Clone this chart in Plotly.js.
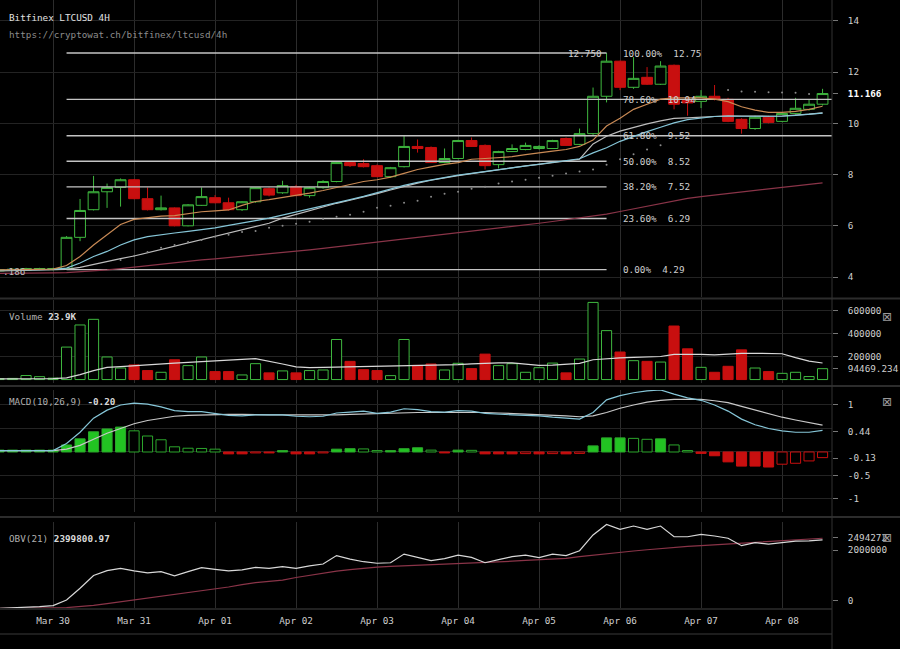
<!DOCTYPE html>
<html><head><meta charset="utf-8">
<script src="https://cdn.plot.ly/plotly-3.0.1.min.js"></script>
<style>html,body{margin:0;padding:0;background:#000;overflow:hidden}#chart{width:900px;height:649px}</style>
</head><body><div id="chart"></div>
<script>
// ---------- data (4H candles, index -4 .. 57 relative to Mar 30 00:00) ----------
const firstIndex = -4;
const openP  = [4.24,4.28,4.27,4.30,4.29, 4.33,5.55,6.63,7.33,7.50, 7.80,7.06,6.63,6.70,6.00, 6.80,7.10,6.90,6.63,6.94, 7.45,7.29,7.53,7.18,7.49, 7.73,8.47,8.43,8.35,7.92, 8.31,9.10,9.06,8.47,8.63, 9.33,9.14,8.39,8.90,8.98, 9.02,9.02,9.41,9.18,9.60, 11.06,12.43,11.41,11.80,11.53, 12.27,10.90,10.86,11.06,10.94, 10.16,9.80,10.24,10.08,10.39, 10.55,10.75];
const highP  = [4.30,4.32,4.36,4.36,4.36, 5.60,7.05,7.95,7.65,7.85, 7.83,7.50,7.18,6.72,6.85, 7.50,7.20,7.10,6.96,7.50, 7.50,7.76,7.60,7.52,7.78, 8.50,8.52,8.60,8.40,8.30, 9.53,9.37,9.10,9.02,9.36, 9.45,9.18,8.93,9.18,9.25, 9.15,9.36,9.45,9.80,11.40, 12.75,12.45,12.59,12.20,12.43, 12.30,11.00,11.30,11.50,11.00, 10.20,10.30,10.30,10.42,11.00, 10.95,11.35];
const lowP   = [4.22,4.25,4.25,4.27,4.26, 4.30,5.40,6.60,6.70,6.75, 7.04,6.60,6.60,5.98,5.98, 6.78,6.88,6.60,6.58,6.90, 7.15,7.25,7.15,7.10,7.45, 7.70,8.30,8.28,7.90,7.88, 8.28,8.86,8.45,8.45,8.60, 9.08,8.20,8.24,8.88,8.95, 8.98,9.00,9.12,9.15,9.55, 10.82,11.30,11.35,11.50,11.50, 10.55,10.30,10.60,10.90,10.05, 9.60,9.75,10.00,10.05,10.35, 10.50,10.70];
const closeP = [4.28,4.30,4.33,4.33,4.33, 5.55,6.60,7.33,7.50,7.80, 7.06,6.63,6.70,6.00,6.82, 7.14,6.90,6.63,6.94,7.49, 7.20,7.57,7.18,7.49,7.73, 8.47,8.35,8.31,7.92,8.27, 9.10,9.02,8.47,8.63,9.33, 9.10,8.35,8.90,9.02,9.14, 9.10,9.33,9.14,9.60,11.06, 12.43,11.41,11.76,11.53,12.24, 10.75,10.80,11.06,10.94,10.08, 9.80,10.24,10.04,10.39,10.59, 10.75,11.166];

const emaFast = [4.28,4.29,4.30,4.31,4.31, 4.45,4.80,5.25,5.65,6.05, 6.25,6.32,6.38,6.40,6.48, 6.55,6.58,6.62,6.80,6.95, 7.02,7.10,7.20,7.28,7.38, 7.50,7.62,7.73,7.80,7.90, 8.05,8.20,8.30,8.40,8.47, 8.60,8.63,8.66,8.70,8.78, 8.86,8.92,8.98,9.10,9.35, 9.90,10.20,10.55,10.75,10.95, 11.00,11.00,11.00,10.95,10.85, 10.65,10.52,10.43,10.43,10.47, 10.55,10.67];
const maBlue  = [4.26,4.27,4.28,4.29,4.30, 4.35,4.55,4.80,5.00,5.25, 5.45,5.58,5.66,5.72,5.78, 5.84,5.92,6.02,6.10,6.20, 6.30,6.42,6.52,6.65,6.77, 6.90,7.02,7.15,7.30,7.45, 7.58,7.70,7.80,7.90,7.98, 8.05,8.12,8.20,8.26,8.33, 8.40,8.47,8.53,8.62,8.85, 9.05,9.30,9.50,9.68,9.85, 10.02,10.15,10.22,10.27,10.28, 10.28,10.27,10.27,10.28,10.31, 10.35,10.40];
const maGray  = [4.24,4.25,4.26,4.27,4.28, 4.30,4.38,4.50,4.62,4.72, 4.82,4.95,5.07,5.20,5.32, 5.45,5.57,5.70,5.84,5.97, 6.10,6.30,6.45,6.60,6.75, 6.88,7.00,7.12,7.26,7.40, 7.55,7.67,7.78,7.88,7.96, 8.04,8.12,8.20,8.27,8.34, 8.40,8.47,8.53,8.60,9.20, 9.50,9.70,9.85,9.98,10.10, 10.20,10.22,10.25,10.28,10.30, 10.29,10.28,10.28,10.29,10.32, 10.36,10.41];
const maLong  = [4.14,4.14,4.15,4.15,4.16, 4.17,4.20,4.24,4.28,4.33, 4.39,4.44,4.50,4.55,4.61, 4.67,4.71,4.76,4.80,4.85, 4.89,4.94,5.00,5.06,5.12, 5.18,5.24,5.30,5.37,5.43, 5.49,5.55,5.61,5.67,5.72, 5.78,5.84,5.90,5.97,6.04, 6.10,6.17,6.24,6.31,6.38, 6.46,6.56,6.66,6.77,6.88, 6.98,7.07,7.14,7.20,7.26, 7.32,7.38,7.44,7.50,7.56, 7.62,7.68];
const sarDots = [null,null,null,null,null, null,null,null,null,4.67, 4.82,4.98,5.14,5.25,5.37, 5.45,5.57,5.65,5.76,5.80, 5.92,6.00,6.08,6.16,6.27, 6.35,6.43,6.55,6.71,6.78, 6.90,6.98,7.14,7.25,7.33, 7.45,7.53,7.65,7.73,7.80, 7.88,7.96,8.04,8.12,8.20, 8.39,8.60,8.80,8.98,9.15, null,null,null,null,11.30, 11.25,11.24,11.22,11.21,11.20, 11.15,null];

const volume = [8000,10000,35000,25000,12000, 282000,474000,523000,196000,100000, 127000,78000,63000,172000,121000, 196000,69000,69000,40000,138000, 58000,75000,58000,78000,83000, 348000,158000,86000,78000,34000, 348000,123000,135000,83000,141000, 95000,221000,121000,138000,63000, 103000,143000,58000,178000,670000, 425000,239000,164000,158000,152000, 465000,267000,106000,63000,115000, 258000,100000,69000,54000,63000, 26000,94469.234];
const volumeMA = [5000,5000,6000,6000,8000, 15000,43000,78000,106000,112000, 121000,128000,136000,143000,150000, 158000,163000,170000,176000,181000, 160000,135000,110000,104000,105000, 107000,110000,112000,115000,117000, 120000,122000,125000,127000,130000, 137000,142000,144000,144000,133000, 123000,125000,130000,140000,172000, 182000,188000,192000,196000,200000, 218000,220000,218000,215000,222000, 228000,228000,227000,224000,190000, 160000,144000];

const macdLine = [0.03,0.03,0.03,0.03,0.03, 0.18,0.42,0.72,0.89,1.00, 1.04,1.02,0.96,0.88,0.86, 0.86,0.82,0.78,0.77,0.79, 0.79,0.79,0.76,0.75,0.76, 0.83,0.85,0.87,0.82,0.85, 0.92,0.90,0.86,0.85,0.88, 0.87,0.82,0.80,0.79,0.78, 0.77,0.74,0.72,0.70,0.84, 1.11,1.20,1.26,1.30,1.32, 1.23,1.15,1.10,1.00,0.87, 0.70,0.58,0.50,0.45,0.42, 0.42,0.46];
const macdSignal = [0.03,0.03,0.03,0.03,0.03, 0.06,0.14,0.27,0.40,0.50, 0.60,0.67,0.72,0.76,0.78, 0.79,0.80,0.80,0.80,0.79, 0.79,0.79,0.79,0.78,0.78, 0.79,0.80,0.81,0.81,0.82, 0.83,0.84,0.84,0.84,0.85, 0.85,0.84,0.83,0.82,0.81, 0.80,0.78,0.77,0.75,0.77, 0.84,0.93,1.00,1.06,1.10, 1.12,1.12,1.12,1.09,1.05, 0.97,0.89,0.82,0.74,0.68, 0.62,0.57];
const macdHist = [0.04,0.04,0.04,0.04,0.04, 0.15,0.28,0.43,0.49,0.53, 0.45,0.34,0.26,0.11,0.08, 0.075,0.06,-0.04,-0.04,-0.02, -0.02,0.03,-0.04,-0.04,-0.02, 0.06,0.07,0.065,0.03,0.03, 0.07,0.09,0.04,-0.02,0.04, 0.035,-0.04,-0.04,-0.04,-0.035, -0.04,-0.035,-0.04,-0.03,0.13, 0.30,0.30,0.29,0.27,0.28, 0.15,0.03,-0.03,-0.08,-0.21, -0.30,-0.30,-0.32,-0.26,-0.24, -0.19,-0.12];

const obv = [-290000,-270000,-250000,-220000,-180000, 40000,500000,1000000,1190000,1280000, 1180000,1100000,1150000,990000,1150000, 1310000,1240000,1180000,1220000,1320000, 1280000,1350000,1280000,1380000,1450000, 1780000,1640000,1540000,1480000,1500000, 1840000,1710000,1580000,1660000,1800000, 1710000,1500000,1620000,1740000,1800000, 1700000,1840000,1780000,1970000,2590000, 3000000,2810000,2940000,2810000,2940000, 2520000,2520000,2610000,2550000,2460000, 2170000,2290000,2230000,2290000,2350000, 2360000,2399800.97];
const obvSignal = [-290000,-290000,-280000,-280000,-270000, -260000,-220000,-170000,-100000,-30000, 50000,110000,180000,260000,320000, 390000,470000,550000,640000,720000, 770000,820000,920000,1000000,1100000, 1170000,1230000,1290000,1330000,1360000, 1380000,1400000,1420000,1440000,1460000, 1490000,1520000,1540000,1560000,1590000, 1610000,1640000,1670000,1740000,1800000, 1850000,1900000,1960000,2010000,2060000, 2100000,2140000,2170000,2200000,2230000, 2260000,2290000,2320000,2350000,2390000, 2430000,2460000];

const fibHigh = 12.75, fibLow = 4.29;
const fibPct = [1, 0.786, 0.618, 0.5, 0.382, 0.236, 0];
const fibLong = [false, true, true, false, false, false, false];
const fibStartIdx = 1, fibEndIdx = 41;

const mainTicks = [4, 6, 8, 10, 12, 14];
const lastPrice = 11.166;
const volTicks = [600000, 400000, 200000, 94469.234];
const macdTicks = [1, 0.44, -0.13, -0.5, -1];
const macdGrid = [1, 0.5, 0, -0.5, -1];
const obvTicks = [2494272, 2000000, 0];
const dayLabels = ['Mar 30','Mar 31','Apr 01','Apr 02','Apr 03','Apr 04','Apr 05','Apr 06','Apr 07','Apr 08'];

// ---------- layout helpers ----------
const STEP = 4 * 3600000;
const startMs = Date.UTC(2017, 2, 30, 0, 0, 0);
const iso = ms => new Date(ms).toISOString().slice(0, 19).replace('T', ' ');
const tAt = i => iso(startMs + i * STEP);
const times = openP.map((_, k) => tAt(firstIndex + k));
const xr = [tAt(-3.93), tAt(57.7)];
const PH = 608, PW = 832;
const py = p => (PH - p) / PH;
const pxx = p => p / PW;

const GREEN = '#3fb83f', RED = '#c80f0f', MG = '#22c322', MGL = '#2ca62c';
const FONT = 'DejaVu Sans Mono';
const up = closeP.map((c, k) => c >= openP[k]);
const histFill = macdHist.map((h, k) => { const p = k > 0 ? macdHist[k - 1] : 0; return h >= 0 ? h >= p : h <= p; });

const line = (y, color, yaxis, w) => ({type: 'scatter', mode: 'lines', x: times, y, xaxis: 'x', yaxis, line: {color, width: w || 1.2}, hoverinfo: 'skip', showlegend: false});
const dummy = ya => ({type: 'scatter', mode: 'markers', x: [times[0]], y: [null], xaxis: 'x', yaxis: ya, hoverinfo: 'skip', showlegend: false});

const traces = [];
// fib lines
fibPct.forEach((p, k) => {
  const lvl = fibLow + (fibHigh - fibLow) * p;
  traces.push({type: 'scatter', mode: 'lines', x: [tAt(fibStartIdx), fibLong[k] ? xr[1] : tAt(fibEndIdx)], y: [lvl, lvl], xaxis: 'x', yaxis: 'y', line: {color: '#c4c4c4', width: 1.4}, hoverinfo: 'skip', showlegend: false});
});
traces.push(line(maLong, '#8a3448', 'y'));
traces.push(line(maGray, '#bdbdbd', 'y'));
traces.push(line(maBlue, '#86c6d8', 'y'));
traces.push(line(emaFast, '#c98a55', 'y'));
traces.push({type: 'scatter', mode: 'markers', x: times, y: sarDots, xaxis: 'x', yaxis: 'y', marker: {color: '#8a8a8a', size: 2}, hoverinfo: 'skip', showlegend: false});
traces.push({type: 'candlestick', x: times, open: openP, high: highP, low: lowP, close: closeP, xaxis: 'x', yaxis: 'y',
  increasing: {line: {color: GREEN, width: 1}, fillcolor: '#000'}, decreasing: {line: {color: RED, width: 1}, fillcolor: RED},
  whiskerwidth: 0, hoverinfo: 'skip', showlegend: false});
traces.push(dummy('y2'));
// volume
traces.push({type: 'bar', x: times, y: volume, xaxis: 'x', yaxis: 'y3', width: 0.75 * STEP,
  marker: {color: up.map(u => u ? '#000' : RED), line: {color: up.map(u => u ? GREEN : RED), width: 1}}, hoverinfo: 'skip', showlegend: false});
traces.push(line(volumeMA, '#d8d8d8', 'y3'));
traces.push(dummy('y4'));
// macd
traces.push({type: 'bar', x: times, y: macdHist, xaxis: 'x', yaxis: 'y5', width: 0.75 * STEP,
  marker: {color: macdHist.map((h, k) => histFill[k] ? (h >= 0 ? MG : RED) : '#000'), line: {color: macdHist.map(h => h >= 0 ? MGL : RED), width: 1}}, hoverinfo: 'skip', showlegend: false});
traces.push(line(macdSignal, '#c8c8c8', 'y5'));
traces.push(line(macdLine, '#86c6d8', 'y5'));
traces.push(dummy('y6'));
// obv
traces.push(line(obvSignal, '#8a3448', 'y7'));
traces.push(line(obv, '#d8d8d8', 'y7'));
traces.push(dummy('y8'));

const gridAxis = (dom, range, vals) => ({domain: dom, range, tickvals: vals, showticklabels: false, ticks: '', showgrid: true, gridcolor: '#232323', zeroline: false, side: 'right', anchor: 'x', fixedrange: true});
const labelAxis = (ov, range, vals, text) => ({overlaying: ov, range, tickvals: vals, ticktext: text, showgrid: false, zeroline: false, side: 'right', anchor: 'x', ticks: 'outside', ticklen: 5, tickcolor: '#777', ticklabelstandoff: 8, tickfont: {family: FONT, size: 9.3, color: '#cfcfcf'}, fixedrange: true});

const rMain = [3.22, 14.82], rVol = [-30000, 691000], rMacd = [-1.277, 1.319], rObv = [-275000, 3098000];
const dMain = [py(297), 1], dVol = [py(383), py(300)], dMacd = [py(512), py(390)], dObv = [0, py(522)];

const mainText = mainTicks.map(String).concat(['<b><span style="color:#ffffff">' + lastPrice.toFixed(3) + '</span></b>']);

const annotations = [];
const ann = (x, y, text, opts) => annotations.push(Object.assign({xref: 'paper', yref: 'paper', x: pxx(x), y: py(y), text, showarrow: false, xanchor: 'left', yanchor: 'middle', font: {family: FONT, size: 9.3, color: '#d8d8d8'}}, opts || {}));
ann(7, 17, 'Bitfinex LTCUSD 4H', {font: {family: FONT, size: 9.3, color: '#e0e0e0'}});
ann(7, 35, 'https://cryptowat.ch/bitfinex/ltcusd/4h', {font: {family: FONT, size: 9.3, color: '#8c8c8c'}});
ann(7, 316, '<span style="color:#b0b0b0">Volume</span> <b>23.9K</b>');
ann(7, 402, '<span style="color:#b0b0b0">MACD(10,26,9)</span> <b>-0.20</b>');
ann(7, 538, '<span style="color:#b0b0b0">OBV(21)</span> <b>2399800.97</b>');
ann(1, 272, '.186', {font: {family: FONT, size: 9.3, color: '#bbbbbb'}});
[317, 402, 538].forEach(y => ann(887, y, '⊠', {xanchor: 'center', font: {family: 'DejaVu Sans', size: 12, color: '#9a9a9a'}}));
fibPct.forEach(p => {
  const lvl = fibLow + (fibHigh - fibLow) * p;
  annotations.push({xref: 'paper', yref: 'y', x: pxx(621), y: lvl, text: (p * 100).toFixed(2) + '%\u00a0\u00a0' + lvl.toFixed(2), showarrow: false, xanchor: 'left', yanchor: 'middle', font: {family: FONT, size: 9.3, color: '#cfcfcf'}});
});
annotations.push({xref: 'paper', yref: 'y', x: pxx(604), y: fibHigh, text: fibHigh.toFixed(3), showarrow: false, xanchor: 'right', yanchor: 'middle', font: {family: FONT, size: 9.3, color: '#cfcfcf'}});

const hline = (y, x1, color, w) => ({type: 'line', xref: 'paper', yref: 'paper', x0: 0, x1: x1, y0: py(y), y1: py(y), line: {color, width: w}, layer: 'below'});
const shapes = [
  hline(298.5, 900 / PW, '#2c2c2c', 2), hline(386, 900 / PW, '#2c2c2c', 2), hline(517, 900 / PW, '#2c2c2c', 2),
  hline(609, 1, '#2c2c2c', 1.5), hline(634, 1, '#3a3a3a', 1),
  {type: 'line', xref: 'paper', yref: 'paper', x0: 1, x1: 1, y0: py(0), y1: py(649), line: {color: '#333', width: 1}}
];

const layout = {
  width: 900, height: 649, paper_bgcolor: '#000', plot_bgcolor: '#000',
  margin: {l: 0, r: 68, t: 0, b: 41}, showlegend: false, hovermode: false,
  font: {family: FONT, size: 9.3, color: '#cfcfcf'}, boxgap: 0.2, boxgroupgap: 0,
  xaxis: {type: 'date', range: xr, domain: [0, 1], anchor: 'y7', tickvals: dayLabels.map((_, k) => tAt(6 * k)), ticktext: dayLabels,
    showgrid: true, gridcolor: '#2c2c2c', ticks: '', zeroline: false, showline: false, ticklabelstandoff: 6,
    tickfont: {family: FONT, size: 9.3, color: '#cfcfcf'}, rangeslider: {visible: false}, fixedrange: true},
  yaxis: gridAxis(dMain, rMain, mainTicks),
  yaxis2: labelAxis('y', rMain, mainTicks.concat([lastPrice]), mainText),
  yaxis3: gridAxis(dVol, rVol, [200000, 400000, 600000]),
  yaxis4: labelAxis('y3', rVol, volTicks, volTicks.map(String)),
  yaxis5: gridAxis(dMacd, rMacd, macdGrid),
  yaxis6: labelAxis('y5', rMacd, macdTicks, macdTicks.map(String)),
  yaxis7: gridAxis(dObv, rObv, []),
  yaxis8: labelAxis('y7', rObv, obvTicks, obvTicks.map(String)),
  annotations, shapes
};
Plotly.newPlot('chart', traces, layout, {displayModeBar: false, staticPlot: true});
</script></body></html>
